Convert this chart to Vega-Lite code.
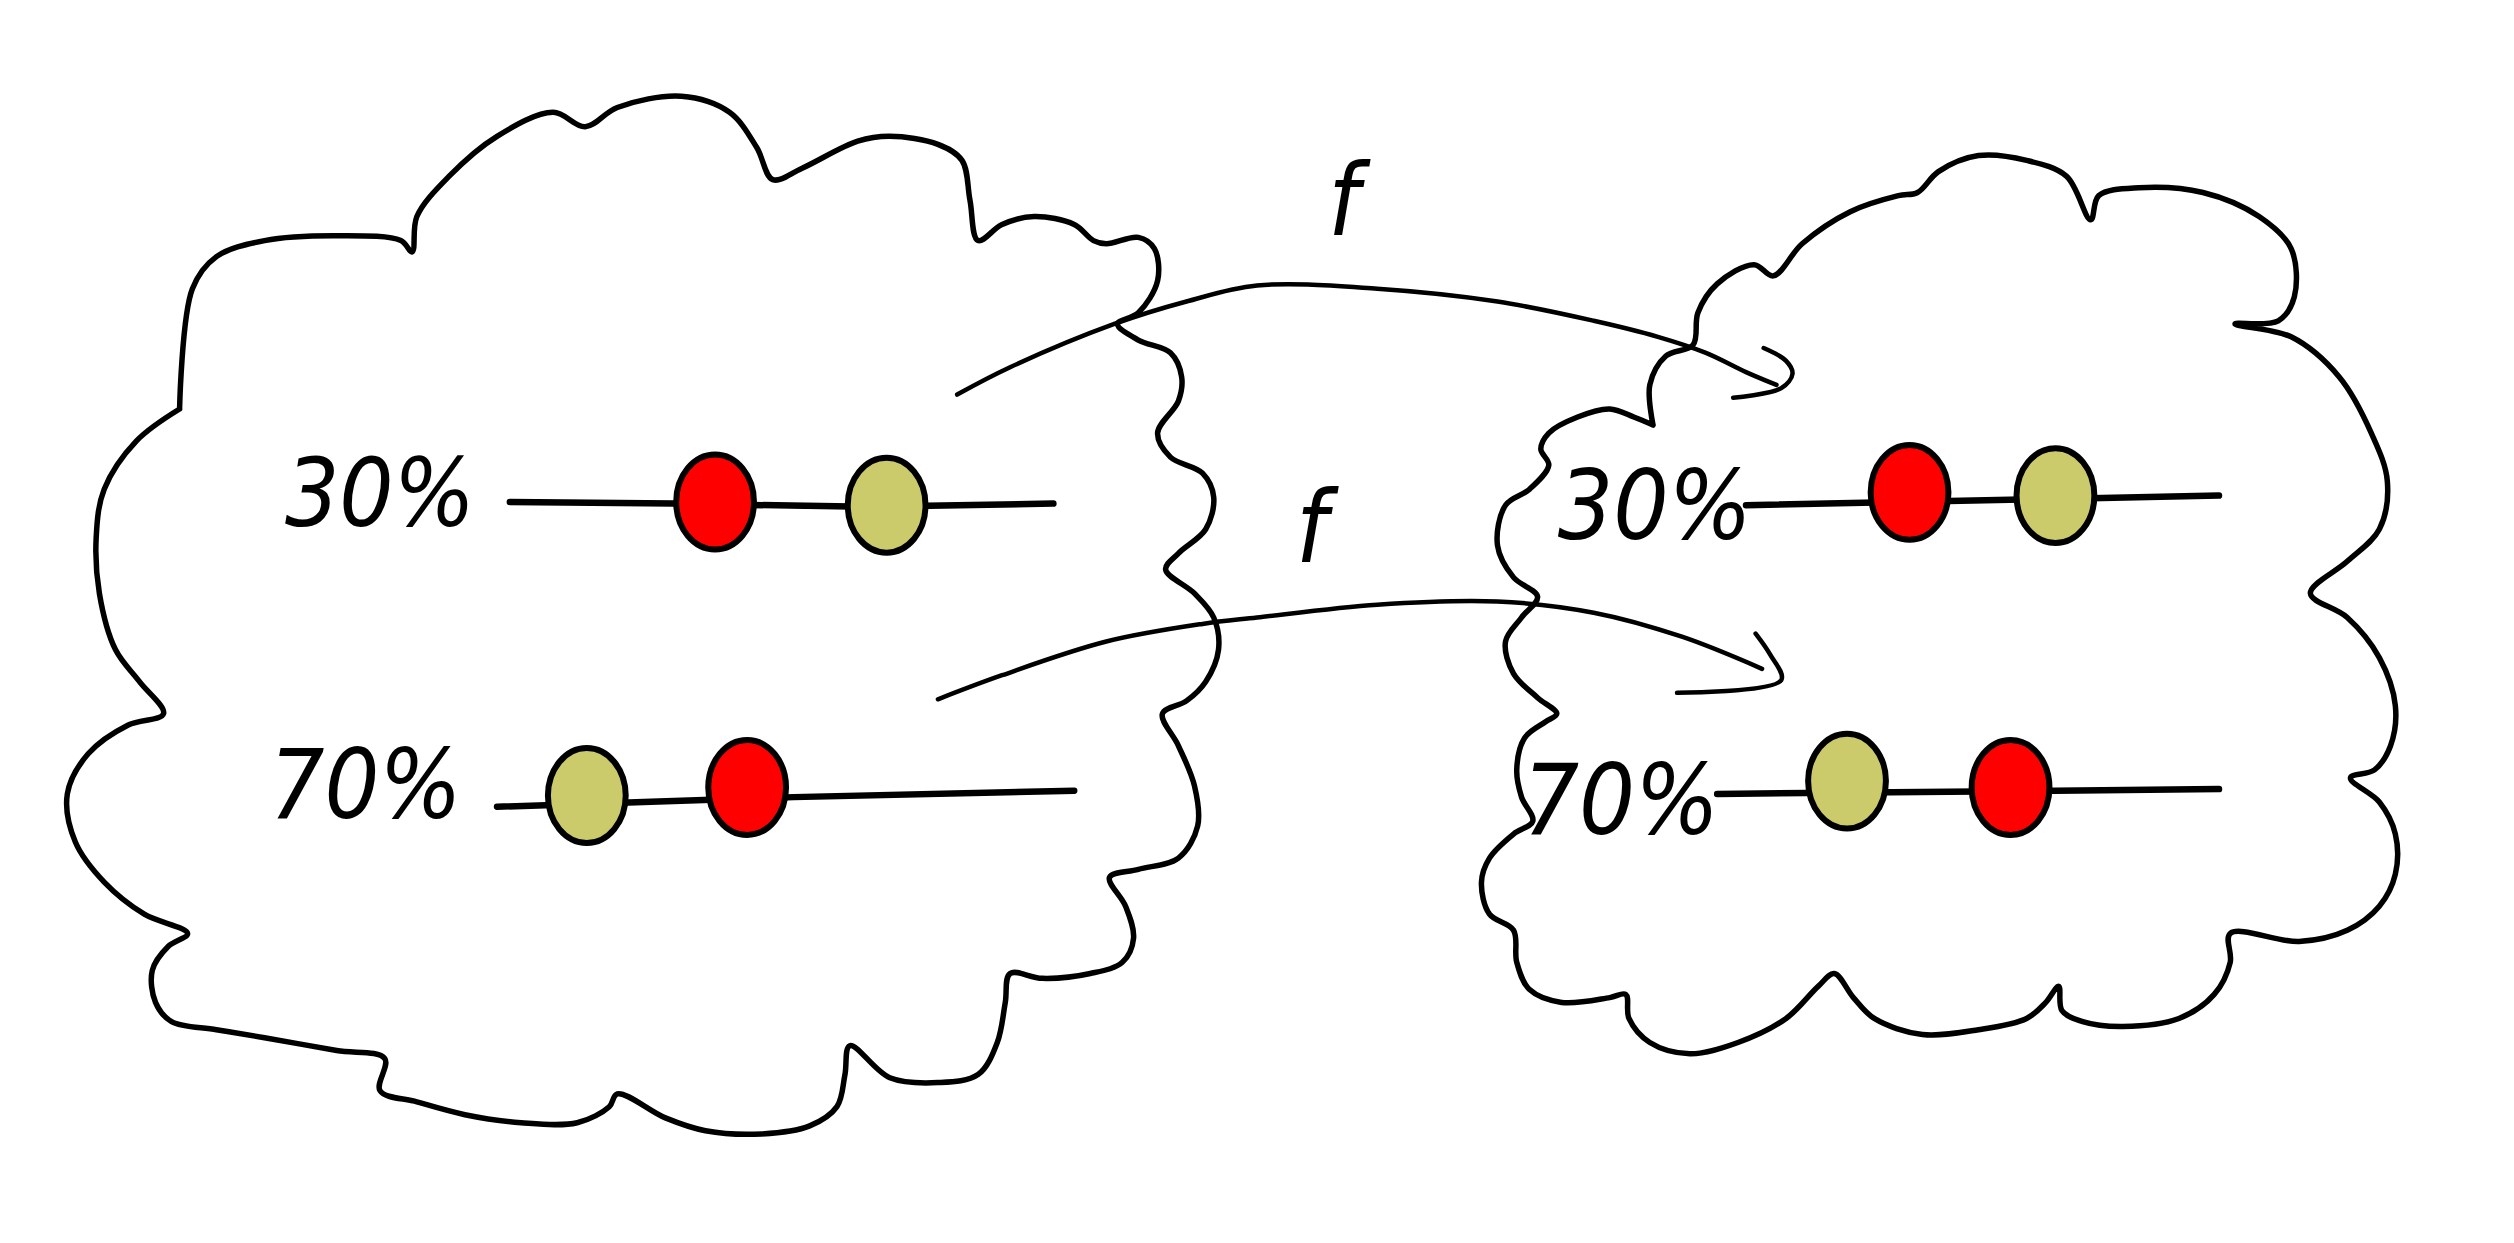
{
  "$schema": "https://vega.github.io/schema/vega-lite/v6.json",
  "width": 2514,
  "height": 1243,
  "padding": 0,
  "autosize": {"type": "none"},
  "background": "white",
  "config": {"view": {"stroke": null}},
  "datasets": {
    "paths": [
      {"id":"L","kind":"cloud","i":1,"x":112,"y":255},
      {"id":"L","kind":"cloud","i":2,"x":120,"y":180},
      {"id":"L","kind":"cloud","i":3,"x":135,"y":160},
      {"id":"L","kind":"cloud","i":4,"x":165,"y":150},
      {"id":"L","kind":"cloud","i":5,"x":210,"y":147},
      {"id":"L","kind":"cloud","i":6,"x":250,"y":150},
      {"id":"L","kind":"cloud","i":7,"x":257,"y":157},
      {"id":"L","kind":"cloud","i":8,"x":260,"y":135},
      {"id":"L","kind":"cloud","i":9,"x":280,"y":110},
      {"id":"L","kind":"cloud","i":10,"x":310,"y":85},
      {"id":"L","kind":"cloud","i":11,"x":345,"y":70},
      {"id":"L","kind":"cloud","i":12,"x":365,"y":79},
      {"id":"L","kind":"cloud","i":13,"x":385,"y":67},
      {"id":"L","kind":"cloud","i":14,"x":425,"y":60},
      {"id":"L","kind":"cloud","i":15,"x":455,"y":70},
      {"id":"L","kind":"cloud","i":16,"x":472,"y":92},
      {"id":"L","kind":"cloud","i":17,"x":482,"y":112},
      {"id":"L","kind":"cloud","i":18,"x":500,"y":105},
      {"id":"L","kind":"cloud","i":19,"x":535,"y":88},
      {"id":"L","kind":"cloud","i":20,"x":555,"y":85},
      {"id":"L","kind":"cloud","i":21,"x":585,"y":90},
      {"id":"L","kind":"cloud","i":22,"x":600,"y":100},
      {"id":"L","kind":"cloud","i":23,"x":605,"y":125},
      {"id":"L","kind":"cloud","i":24,"x":610,"y":150},
      {"id":"L","kind":"cloud","i":25,"x":625,"y":140},
      {"id":"L","kind":"cloud","i":26,"x":645,"y":135},
      {"id":"L","kind":"cloud","i":27,"x":670,"y":140},
      {"id":"L","kind":"cloud","i":28,"x":682,"y":150},
      {"id":"L","kind":"cloud","i":29,"x":690,"y":152},
      {"id":"L","kind":"cloud","i":30,"x":710,"y":148},
      {"id":"L","kind":"cloud","i":31,"x":720,"y":155},
      {"id":"L","kind":"cloud","i":32,"x":722,"y":175},
      {"id":"L","kind":"cloud","i":33,"x":710,"y":195},
      {"id":"L","kind":"cloud","i":34,"x":697,"y":202},
      {"id":"L","kind":"cloud","i":35,"x":710,"y":212},
      {"id":"L","kind":"cloud","i":36,"x":730,"y":220},
      {"id":"L","kind":"cloud","i":37,"x":737,"y":235},
      {"id":"L","kind":"cloud","i":38,"x":735,"y":250},
      {"id":"L","kind":"cloud","i":39,"x":722,"y":270},
      {"id":"L","kind":"cloud","i":40,"x":730,"y":285},
      {"id":"L","kind":"cloud","i":41,"x":750,"y":295},
      {"id":"L","kind":"cloud","i":42,"x":757,"y":310},
      {"id":"L","kind":"cloud","i":43,"x":752,"y":330},
      {"id":"L","kind":"cloud","i":44,"x":735,"y":345},
      {"id":"L","kind":"cloud","i":45,"x":727,"y":355},
      {"id":"L","kind":"cloud","i":46,"x":745,"y":370},
      {"id":"L","kind":"cloud","i":47,"x":757,"y":385},
      {"id":"L","kind":"cloud","i":48,"x":760,"y":405},
      {"id":"L","kind":"cloud","i":49,"x":752,"y":425},
      {"id":"L","kind":"cloud","i":50,"x":740,"y":437},
      {"id":"L","kind":"cloud","i":51,"x":725,"y":445},
      {"id":"L","kind":"cloud","i":52,"x":735,"y":465},
      {"id":"L","kind":"cloud","i":53,"x":745,"y":490},
      {"id":"L","kind":"cloud","i":54,"x":747,"y":515},
      {"id":"L","kind":"cloud","i":55,"x":735,"y":535},
      {"id":"L","kind":"cloud","i":56,"x":710,"y":542},
      {"id":"L","kind":"cloud","i":57,"x":692,"y":547},
      {"id":"L","kind":"cloud","i":58,"x":702,"y":565},
      {"id":"L","kind":"cloud","i":59,"x":707,"y":585},
      {"id":"L","kind":"cloud","i":60,"x":700,"y":600},
      {"id":"L","kind":"cloud","i":61,"x":680,"y":607},
      {"id":"L","kind":"cloud","i":62,"x":650,"y":610},
      {"id":"L","kind":"cloud","i":63,"x":630,"y":607},
      {"id":"L","kind":"cloud","i":64,"x":627,"y":625},
      {"id":"L","kind":"cloud","i":65,"x":622,"y":650},
      {"id":"L","kind":"cloud","i":66,"x":610,"y":670},
      {"id":"L","kind":"cloud","i":67,"x":585,"y":675},
      {"id":"L","kind":"cloud","i":68,"x":555,"y":672},
      {"id":"L","kind":"cloud","i":69,"x":530,"y":652},
      {"id":"L","kind":"cloud","i":70,"x":527,"y":670},
      {"id":"L","kind":"cloud","i":71,"x":522,"y":690},
      {"id":"L","kind":"cloud","i":72,"x":505,"y":702},
      {"id":"L","kind":"cloud","i":73,"x":475,"y":707},
      {"id":"L","kind":"cloud","i":74,"x":440,"y":705},
      {"id":"L","kind":"cloud","i":75,"x":415,"y":697},
      {"id":"L","kind":"cloud","i":76,"x":385,"y":682},
      {"id":"L","kind":"cloud","i":77,"x":380,"y":690},
      {"id":"L","kind":"cloud","i":78,"x":360,"y":700},
      {"id":"L","kind":"cloud","i":79,"x":325,"y":700},
      {"id":"L","kind":"cloud","i":80,"x":290,"y":695},
      {"id":"L","kind":"cloud","i":81,"x":260,"y":687},
      {"id":"L","kind":"cloud","i":82,"x":237,"y":680},
      {"id":"L","kind":"cloud","i":83,"x":240,"y":660},
      {"id":"L","kind":"cloud","i":84,"x":210,"y":655},
      {"id":"L","kind":"cloud","i":85,"x":165,"y":647},
      {"id":"L","kind":"cloud","i":86,"x":135,"y":642},
      {"id":"L","kind":"cloud","i":87,"x":107,"y":637},
      {"id":"L","kind":"cloud","i":88,"x":97,"y":625},
      {"id":"L","kind":"cloud","i":89,"x":95,"y":605},
      {"id":"L","kind":"cloud","i":90,"x":105,"y":590},
      {"id":"L","kind":"cloud","i":91,"x":117,"y":582},
      {"id":"L","kind":"cloud","i":92,"x":90,"y":570},
      {"id":"L","kind":"cloud","i":93,"x":65,"y":550},
      {"id":"L","kind":"cloud","i":94,"x":47,"y":525},
      {"id":"L","kind":"cloud","i":95,"x":42,"y":495},
      {"id":"L","kind":"cloud","i":96,"x":55,"y":470},
      {"id":"L","kind":"cloud","i":97,"x":80,"y":452},
      {"id":"L","kind":"cloud","i":98,"x":102,"y":445},
      {"id":"L","kind":"cloud","i":99,"x":87,"y":425},
      {"id":"L","kind":"cloud","i":100,"x":72,"y":405},
      {"id":"L","kind":"cloud","i":101,"x":62,"y":370},
      {"id":"L","kind":"cloud","i":102,"x":60,"y":335},
      {"id":"L","kind":"cloud","i":103,"x":65,"y":305},
      {"id":"L","kind":"cloud","i":104,"x":85,"y":275},
      {"id":"L","kind":"cloud","i":105,"x":112,"y":255},

      {"id":"R","kind":"cloud","i":1,"x":1031,"y":265},
      {"id":"R","kind":"cloud","i":2,"x":1029,"y":240},
      {"id":"R","kind":"cloud","i":3,"x":1039,"y":222},
      {"id":"R","kind":"cloud","i":4,"x":1056,"y":215},
      {"id":"R","kind":"cloud","i":5,"x":1059,"y":195},
      {"id":"R","kind":"cloud","i":6,"x":1071,"y":177},
      {"id":"R","kind":"cloud","i":7,"x":1094,"y":165},
      {"id":"R","kind":"cloud","i":8,"x":1106,"y":172},
      {"id":"R","kind":"cloud","i":9,"x":1124,"y":152},
      {"id":"R","kind":"cloud","i":10,"x":1154,"y":132},
      {"id":"R","kind":"cloud","i":11,"x":1184,"y":122},
      {"id":"R","kind":"cloud","i":12,"x":1196,"y":120},
      {"id":"R","kind":"cloud","i":13,"x":1209,"y":107},
      {"id":"R","kind":"cloud","i":14,"x":1234,"y":97},
      {"id":"R","kind":"cloud","i":15,"x":1264,"y":100},
      {"id":"R","kind":"cloud","i":16,"x":1289,"y":110},
      {"id":"R","kind":"cloud","i":17,"x":1304,"y":137},
      {"id":"R","kind":"cloud","i":18,"x":1309,"y":122},
      {"id":"R","kind":"cloud","i":19,"x":1334,"y":117},
      {"id":"R","kind":"cloud","i":20,"x":1374,"y":120},
      {"id":"R","kind":"cloud","i":21,"x":1409,"y":135},
      {"id":"R","kind":"cloud","i":22,"x":1429,"y":155},
      {"id":"R","kind":"cloud","i":23,"x":1431,"y":185},
      {"id":"R","kind":"cloud","i":24,"x":1421,"y":200},
      {"id":"R","kind":"cloud","i":25,"x":1394,"y":202},
      {"id":"R","kind":"cloud","i":26,"x":1429,"y":210},
      {"id":"R","kind":"cloud","i":27,"x":1459,"y":235},
      {"id":"R","kind":"cloud","i":28,"x":1479,"y":270},
      {"id":"R","kind":"cloud","i":29,"x":1489,"y":300},
      {"id":"R","kind":"cloud","i":30,"x":1484,"y":330},
      {"id":"R","kind":"cloud","i":31,"x":1464,"y":350},
      {"id":"R","kind":"cloud","i":32,"x":1441,"y":370},
      {"id":"R","kind":"cloud","i":33,"x":1464,"y":385},
      {"id":"R","kind":"cloud","i":34,"x":1484,"y":410},
      {"id":"R","kind":"cloud","i":35,"x":1494,"y":440},
      {"id":"R","kind":"cloud","i":36,"x":1491,"y":465},
      {"id":"R","kind":"cloud","i":37,"x":1481,"y":480},
      {"id":"R","kind":"cloud","i":38,"x":1466,"y":485},
      {"id":"R","kind":"cloud","i":39,"x":1484,"y":500},
      {"id":"R","kind":"cloud","i":40,"x":1494,"y":520},
      {"id":"R","kind":"cloud","i":41,"x":1494,"y":545},
      {"id":"R","kind":"cloud","i":42,"x":1484,"y":565},
      {"id":"R","kind":"cloud","i":43,"x":1464,"y":580},
      {"id":"R","kind":"cloud","i":44,"x":1434,"y":587},
      {"id":"R","kind":"cloud","i":45,"x":1391,"y":582},
      {"id":"R","kind":"cloud","i":46,"x":1391,"y":600},
      {"id":"R","kind":"cloud","i":47,"x":1381,"y":620},
      {"id":"R","kind":"cloud","i":48,"x":1359,"y":635},
      {"id":"R","kind":"cloud","i":49,"x":1324,"y":640},
      {"id":"R","kind":"cloud","i":50,"x":1299,"y":637},
      {"id":"R","kind":"cloud","i":51,"x":1286,"y":630},
      {"id":"R","kind":"cloud","i":52,"x":1284,"y":615},
      {"id":"R","kind":"cloud","i":53,"x":1276,"y":625},
      {"id":"R","kind":"cloud","i":54,"x":1264,"y":635},
      {"id":"R","kind":"cloud","i":55,"x":1234,"y":642},
      {"id":"R","kind":"cloud","i":56,"x":1199,"y":645},
      {"id":"R","kind":"cloud","i":57,"x":1169,"y":635},
      {"id":"R","kind":"cloud","i":58,"x":1156,"y":622},
      {"id":"R","kind":"cloud","i":59,"x":1144,"y":607},
      {"id":"R","kind":"cloud","i":60,"x":1134,"y":615},
      {"id":"R","kind":"cloud","i":61,"x":1114,"y":635},
      {"id":"R","kind":"cloud","i":62,"x":1084,"y":650},
      {"id":"R","kind":"cloud","i":63,"x":1054,"y":657},
      {"id":"R","kind":"cloud","i":64,"x":1029,"y":650},
      {"id":"R","kind":"cloud","i":65,"x":1016,"y":635},
      {"id":"R","kind":"cloud","i":66,"x":1014,"y":620},
      {"id":"R","kind":"cloud","i":67,"x":1004,"y":622},
      {"id":"R","kind":"cloud","i":68,"x":974,"y":625},
      {"id":"R","kind":"cloud","i":69,"x":954,"y":617},
      {"id":"R","kind":"cloud","i":70,"x":946,"y":600},
      {"id":"R","kind":"cloud","i":71,"x":944,"y":580},
      {"id":"R","kind":"cloud","i":72,"x":929,"y":570},
      {"id":"R","kind":"cloud","i":73,"x":924,"y":550},
      {"id":"R","kind":"cloud","i":74,"x":929,"y":535},
      {"id":"R","kind":"cloud","i":75,"x":944,"y":520},
      {"id":"R","kind":"cloud","i":76,"x":956,"y":512},
      {"id":"R","kind":"cloud","i":77,"x":949,"y":497},
      {"id":"R","kind":"cloud","i":78,"x":946,"y":480},
      {"id":"R","kind":"cloud","i":79,"x":951,"y":460},
      {"id":"R","kind":"cloud","i":80,"x":964,"y":450},
      {"id":"R","kind":"cloud","i":81,"x":971,"y":445},
      {"id":"R","kind":"cloud","i":82,"x":959,"y":435},
      {"id":"R","kind":"cloud","i":83,"x":944,"y":420},
      {"id":"R","kind":"cloud","i":84,"x":939,"y":400},
      {"id":"R","kind":"cloud","i":85,"x":949,"y":385},
      {"id":"R","kind":"cloud","i":86,"x":959,"y":372},
      {"id":"R","kind":"cloud","i":87,"x":944,"y":360},
      {"id":"R","kind":"cloud","i":88,"x":934,"y":340},
      {"id":"R","kind":"cloud","i":89,"x":939,"y":315},
      {"id":"R","kind":"cloud","i":90,"x":954,"y":305},
      {"id":"R","kind":"cloud","i":91,"x":966,"y":290},
      {"id":"R","kind":"cloud","i":92,"x":961,"y":280},
      {"id":"R","kind":"cloud","i":93,"x":966,"y":270},
      {"id":"R","kind":"cloud","i":94,"x":984,"y":260},
      {"id":"R","kind":"cloud","i":95,"x":1004,"y":255},
      {"id":"R","kind":"cloud","i":96,"x":1019,"y":260},
      {"id":"R","kind":"cloud","i":97,"x":1031,"y":265},

      {"id":"A1","kind":"arrow","i":1,"x":597,"y":246},
      {"id":"A1","kind":"arrow","i":2,"x":630,"y":229},
      {"id":"A1","kind":"arrow","i":3,"x":695,"y":202},
      {"id":"A1","kind":"arrow","i":4,"x":740,"y":188},
      {"id":"A1","kind":"arrow","i":5,"x":784,"y":178},
      {"id":"A1","kind":"arrow","i":6,"x":859,"y":180},
      {"id":"A1","kind":"arrow","i":7,"x":934,"y":188},
      {"id":"A1","kind":"arrow","i":8,"x":994,"y":200},
      {"id":"A1","kind":"arrow","i":9,"x":1034,"y":210},
      {"id":"A1","kind":"arrow","i":10,"x":1064,"y":220},
      {"id":"A1","kind":"arrow","i":11,"x":1089,"y":232},
      {"id":"A1","kind":"arrow","i":12,"x":1108,"y":240},
      {"id":"H1","kind":"head","i":1,"x":1100,"y":217},
      {"id":"H1","kind":"head","i":2,"x":1114,"y":225},
      {"id":"H1","kind":"head","i":3,"x":1118,"y":233},
      {"id":"H1","kind":"head","i":4,"x":1111,"y":242},
      {"id":"H1","kind":"head","i":5,"x":1081,"y":248},

      {"id":"A2","kind":"arrow","i":1,"x":585,"y":436},
      {"id":"A2","kind":"arrow","i":2,"x":625,"y":421},
      {"id":"A2","kind":"arrow","i":3,"x":690,"y":400},
      {"id":"A2","kind":"arrow","i":4,"x":750,"y":389},
      {"id":"A2","kind":"arrow","i":5,"x":784,"y":385},
      {"id":"A2","kind":"arrow","i":6,"x":859,"y":377},
      {"id":"A2","kind":"arrow","i":7,"x":934,"y":375},
      {"id":"A2","kind":"arrow","i":8,"x":994,"y":382},
      {"id":"A2","kind":"arrow","i":9,"x":1049,"y":397},
      {"id":"A2","kind":"arrow","i":10,"x":1099,"y":417},
      {"id":"H2","kind":"head","i":1,"x":1095,"y":395},
      {"id":"H2","kind":"head","i":2,"x":1104,"y":408},
      {"id":"H2","kind":"head","i":3,"x":1111,"y":424},
      {"id":"H2","kind":"head","i":4,"x":1046,"y":432},

      {"id":"BL30","kind":"bar","i":1,"x":318,"y":313},
      {"id":"BL30","kind":"bar","i":2,"x":420,"y":314},
      {"id":"BL30","kind":"bar","i":3,"x":540,"y":316},
      {"id":"BL30","kind":"bar","i":4,"x":657,"y":314},
      {"id":"BL70","kind":"bar","i":1,"x":310,"y":503},
      {"id":"BL70","kind":"bar","i":2,"x":495,"y":497},
      {"id":"BL70","kind":"bar","i":3,"x":670,"y":493},
      {"id":"BR30","kind":"bar","i":1,"x":1089,"y":315},
      {"id":"BR30","kind":"bar","i":2,"x":1384,"y":309},
      {"id":"BR70","kind":"bar","i":1,"x":1071,"y":495},
      {"id":"BR70","kind":"bar","i":2,"x":1384,"y":492}
    ],
    "dots": [
      {"row":"L30","color":"red","x":446,"y":313},
      {"row":"L30","color":"olive","x":553,"y":315},
      {"row":"L70","color":"olive","x":366,"y":496},
      {"row":"L70","color":"red","x":466,"y":491},
      {"row":"R30","color":"red","x":1191,"y":307},
      {"row":"R30","color":"olive","x":1282,"y":309},
      {"row":"R70","color":"olive","x":1152,"y":487},
      {"row":"R70","color":"red","x":1254,"y":491}
    ],
    "labels": [
      {"id":"L30","label":"30%","x":237,"y":310},
      {"id":"L70","label":"70%","x":228,"y":492},
      {"id":"R30","label":"30%","x":1032,"y":318},
      {"id":"R70","label":"70%","x":1011,"y":502},
      {"id":"f1","label":"f","x":838,"y":128},
      {"id":"f2","label":"f","x":818,"y":332}
    ]
  },
  "encoding": {
    "x": {"field": "x", "type": "quantitative", "scale": {"domain": [0, 1568], "nice": false, "zero": false}, "axis": null},
    "y": {"field": "y", "type": "quantitative", "scale": {"domain": [0, 775], "nice": false, "zero": false, "reverse": true}, "axis": null}
  },
  "layer": [
    {
      "data": {"name": "paths"},
      "transform": [{"filter": "datum.kind === 'cloud'"}],
      "mark": {"type": "line", "color": "black", "strokeWidth": 5.5, "interpolate": "catmull-rom", "strokeCap": "round", "strokeJoin": "round"},
      "encoding": {"detail": {"field": "id"}, "order": {"field": "i", "type": "quantitative"}}
    },
    {
      "data": {"name": "paths"},
      "transform": [{"filter": "datum.kind === 'arrow' || datum.kind === 'head'"}],
      "mark": {"type": "line", "color": "black", "strokeWidth": 4.5, "interpolate": "catmull-rom", "strokeCap": "round", "strokeJoin": "round"},
      "encoding": {"detail": {"field": "id"}, "order": {"field": "i", "type": "quantitative"}}
    },
    {
      "data": {"name": "paths"},
      "transform": [{"filter": "datum.kind === 'bar'"}],
      "mark": {"type": "line", "color": "black", "strokeWidth": 6.5, "interpolate": "linear", "strokeCap": "round"},
      "encoding": {"detail": {"field": "id"}, "order": {"field": "i", "type": "quantitative"}}
    },
    {
      "data": {"name": "dots"},
      "mark": {
        "type": "point",
        "filled": true,
        "opacity": 1,
        "size": 9000,
        "stroke": "black",
        "strokeWidth": 6,
        "shape": "M0,-1 C0.4523,-1 0.82,-0.5523 0.82,0 C0.82,0.5523 0.4523,1 0,1 C-0.4523,1 -0.82,0.5523 -0.82,0 C-0.82,-0.5523 -0.4523,-1 0,-1 Z"
      },
      "encoding": {
        "fill": {"field": "color", "type": "nominal", "scale": {"domain": ["red", "olive"], "range": ["#ff0000", "#cbcb6c"]}, "legend": null}
      }
    },
    {
      "data": {"name": "labels"},
      "mark": {"type": "text", "align": "center", "baseline": "middle", "font": "Liberation Sans Narrow, DejaVu Sans Condensed, DejaVu Sans", "fontStyle": "italic", "color": "black"},
      "encoding": {
        "text": {"field": "label"},
        "size": {"field": "id", "type": "nominal", "scale": {"domain": ["L30", "L70", "R30", "R70", "f1", "f2"], "range": [95, 100, 72, 95, 70, 70]}, "legend": null}
      }
    }
  ]
}
